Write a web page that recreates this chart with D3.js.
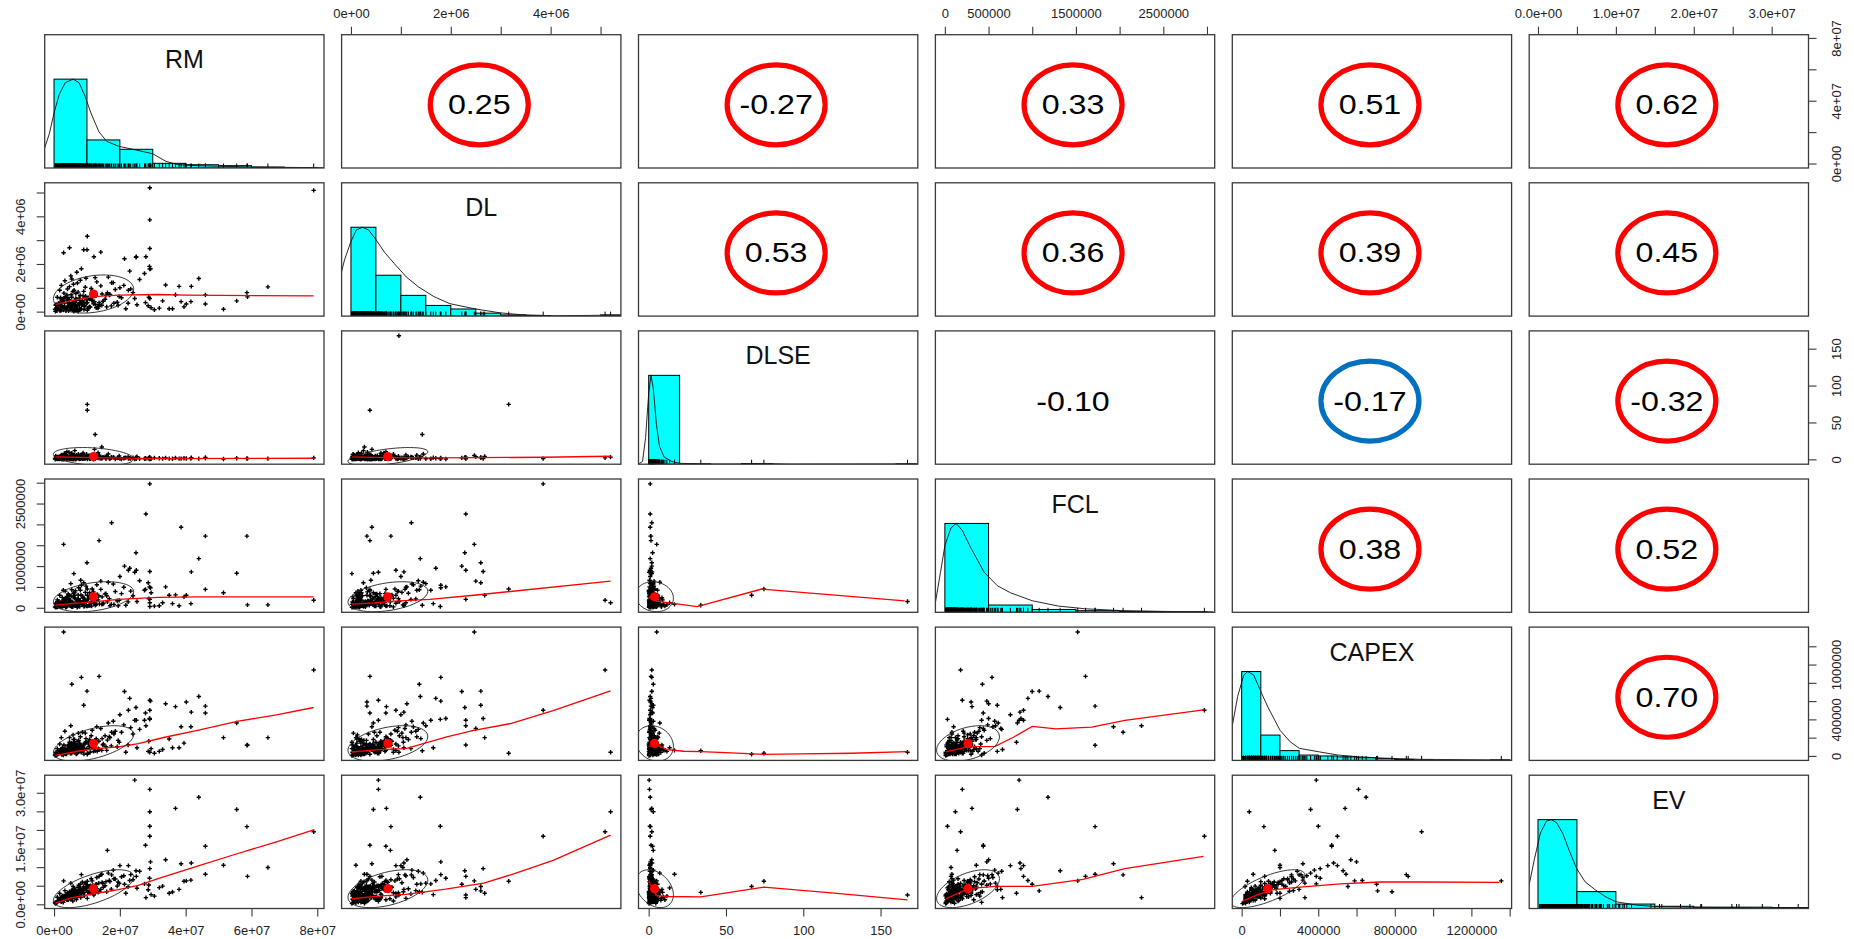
<!DOCTYPE html>
<html>
<head>
<meta charset="utf-8">
<script src="https://cdn.jsdelivr.net/npm/d3@7"></script>
<style>
body { margin: 0; background: #fff; }
svg { display: block; font-family: "Liberation Sans", Arial, sans-serif; }
</style>
</head>
<body>
<script>
// variables of the pairs plot; RM, DL, FCL, CAPEX, EV are in millions, DLSE as is
const vars = ["RM", "DL", "DLSE", "FCL", "CAPEX", "EV"];

const RM = [78.9,29.1,29.1,2.9,null,10.1,10.1,12.5,14.5,24.5, 29.1,44.0,36.9,55.5,29.1,58.6,46.0,16.2,27.8,33.9,
  41.7,38.6,51.5,65.0,46.0,40.2,36.0,27.9,17.5,13.7, 24.9,4.7,10.0,9.0,14.2,29.1,25.0,21.4,12.1,29.3,
  23.0,27.5,38.0,58.8,35.0,32.0,41.6,8.3,5.4,20.0, 22.6,6.0,
  0.8,1.2,1.9,2.3,2.7,3.1,3.4,3.8,4.1,4.5, 4.9,5.2,5.6,5.9,6.3,6.6,7.0,7.3,7.7,8.0,
  8.4,8.8,9.1,9.5,9.9,10.4,11.0,11.6,12.3,13.0, 13.8,14.6,15.5,16.5,17.4,18.6,19.8,21.2,22.5,24.0,
  26.0,28.8,29.5,29.0,28.6,30.5,33.0,39.5,0.4,1.5, 2.0,2.5,3.0,3.6,4.3,4.7,5.0,5.4,5.8,6.1,
  6.5,6.8,7.1,7.5,7.9,8.2,8.6,9.0,9.3,9.7, 10.1,10.7,11.3,12.0,12.7,13.4,14.2,15.0,16.0,17.0,
  18.0,19.2,20.5,21.8,23.3,25.2,0.6,1.0,1.7,2.2, 2.8,3.3,3.9,4.4,5.1,5.7,6.2,6.9,7.4,8.1,
  0.9,1.4,2.1,2.6,3.2,3.7,4.2,4.6,5.3,5.5, 6.0,6.4,6.7,7.2,7.6,8.3,8.7,9.2,9.6,10.2,
  11.4,12.5,13.1,1.1,1.8,2.4,3.5,4.0,4.8,5.7, 6.9,7.8,8.9,10.8,14.8,16.8,19.5,2.9,3.9,5.0,
  0.7,1.3,2.2,3.0,4.4,5.2,6.2,7.4,8.5,9.4, 10.6,11.8,0.5,1.6,2.5,3.4,4.9,6.6,7.0,8.8,
  1.0,2.0,3.3,4.5,5.9,7.7,9.8,12.8,15.8,18.2, 0.3,1.9,2.7,4.1,6.3,8.0,11.1,13.6,2.3,5.6];
const DL = [5.09,5.20,3.85,2.47,0.96,3.16,0.38,1.43,0.27,0.55, 0.55,1.39,0.71,0.45,1.79,0.80,0.70,0.79,0.38,1.12,
  1.06,0.42,0.10,1.04,0.32,0.32,0.12,2.30,1.21,0.38, 2.28,2.68,2.60,2.60,2.50,2.65,2.30,2.22,2.30,1.80,
  1.70,1.60,1.06,0.62,0.12,0.15,0.42,1.80,1.37,1.00, 0.90,0.02,
  0.05,0.12,0.30,0.08,0.45,0.21,0.62,0.18,0.95,0.33, 0.10,0.71,0.40,1.15,0.25,0.55,0.15,0.82,0.48,1.32,
  0.28,0.66,0.09,1.02,0.36,0.58,0.19,0.88,0.42,1.25, 0.30,0.74,0.52,1.45,0.24,0.93,0.63,1.10,0.35,0.80,
  1.35,0.60,0.16,1.90,0.25,0.08,0.45,0.20,0.02,0.35, 0.55,0.14,0.78,0.04,0.50,1.05,0.22,0.60,0.13,0.90,
  0.38,0.07,1.20,0.31,0.68,0.11,0.47,0.85,0.26,1.40, 0.06,0.53,0.97,0.33,0.67,0.15,1.08,0.44,0.20,0.72,
  1.22,0.39,0.58,0.12,0.95,0.29,0.30,0.60,0.90,1.10, 0.20,1.30,0.70,0.03,1.50,0.85,0.45,1.65,0.05,0.40,
  0.04,0.16,0.27,0.10,0.36,0.06,0.22,0.51,0.13,0.34, 0.08,0.43,0.19,0.29,0.57,0.11,0.38,0.23,0.65,0.14,
  0.47,0.31,0.18,0.25,0.03,0.41,0.17,0.60,0.09,0.28, 0.52,0.12,0.35,0.21,0.44,0.70,0.26,0.07,0.49,0.20,
  0.15,0.33,0.05,0.56,0.24,0.11,0.39,0.02,0.30,0.62, 0.18,0.46,0.27,0.09,0.53,0.14,0.32,0.76,0.06,0.41,
  0.22,0.58,0.12,0.37,0.04,0.29,0.50,0.16,0.68,0.35, 0.10,0.26,0.44,0.19,0.07,0.34,0.55,0.23,0.48,0.13];
const DLSE = [2.0,3.0,1.0,5.2,167.4,74.5,66.6,33.7,16.7,0.3, 0.5,1.0,2.0,1.5,0.8,1.2,2.5,3.0,1.5,2.0,
  2.2,1.0,0.5,1.0,1.5,1.2,0.9,1.0,2.0,1.5, 2.5,4.0,2.0,3.0,3.5,1.0,0.8,2.0,3.0,1.2,
  1.5,0.9,1.0,1.0,1.0,1.5,1.0,2.0,3.0,1.0, 1.0,2.0,
  1.2,3.5,0.6,5.1,2.2,7.9,1.8,0.4,4.4,9.5, 2.9,0.9,6.2,3.3,11.8,1.5,4.8,2.6,0.3,5.7,
  3.9,8.6,1.1,2.4,6.8,3.0,0.7,4.1,13.5,2.0, 5.3,1.3,3.6,7.2,2.8,0.5,4.6,1.6,3.2,2.1,
  0.8,1.9,0.9,0.5,1.3,2.0,1.0,1.5,0.2,2.5, 1.0,4.0,0.8,6.5,2.0,0.5,3.8,8.2,1.4,2.7,
  0.1,5.5,3.1,1.7,4.3,0.6,2.3,7.0,1.0,3.4, 0.4,5.0,2.2,0.2,3.7,9.0,1.1,2.6,4.5,0.7,
  3.0,1.8,0.3,2.4,1.2,3.5,1.9,0.4,3.0,6.0, 0.2,2.0,10.5,1.6,0.9,4.9,1.3,2.4,6.8,0.6,
  0.8,2.6,1.4,4.2,0.3,3.1,1.9,0.6,5.4,2.2, 1.0,3.7,0.4,2.9,1.6,6.1,0.9,2.4,4.8,1.2,
  3.3,0.7,2.0,1.5,4.0,0.2,2.8,1.1,3.6,0.5, 1.7,5.0,2.3,0.9,3.0,1.3,2.1,0.4,4.5,1.8,
  2.7,0.6,3.9,1.0,2.5,0.3,5.8,1.4,2.0,0.8, 3.4,1.2,4.6,0.5,2.2,1.7,0.9,3.8,1.5,2.9,
  0.7,4.1,1.3,2.6,0.2,3.2,1.9,5.2,0.6,2.4, 1.1,3.5,0.4,2.0,4.4,1.6,0.8,2.7,3.0,1.0];
const FCL = [0.18,0.12,2.97,1.52,0.15,0.45,0.30,0.06,0.08,0.85, 0.20,1.18,0.31,0.83,0.03,1.72,0.44,0.14,0.44,0.50,
  0.86,1.93,0.36,0.07,1.72,0.30,0.10,2.25,2.04,1.61, 1.32,0.30,1.08,0.60,0.64,0.87,0.90,1.00,0.20,0.48,
  0.95,0.42,0.05,0.07,0.30,0.05,0.10,0.54,0.43,0.75, 0.90,0.82,
  0.02,0.04,0.08,0.03,0.11,0.06,0.15,0.02,0.22,0.09, 0.05,0.28,0.12,0.35,0.07,0.19,0.04,0.31,0.14,0.42,
  0.10,0.24,0.03,0.37,0.16,0.21,0.06,0.45,0.12,0.55, 0.09,0.26,0.33,0.61,0.08,0.39,0.18,0.49,0.14,0.29,
  0.65,0.22,0.36,0.50,0.60,0.04,0.12,0.26,0.01,0.16, 0.09,0.25,0.05,0.13,0.33,0.07,0.18,0.02,0.26,0.11,
  0.41,0.06,0.20,0.48,0.13,0.30,0.08,0.23,0.10,0.52, 0.04,0.27,0.15,0.38,0.07,0.19,0.44,0.11,0.29,0.05,
  0.57,0.17,0.34,0.06,0.40,0.15,0.07,0.19,0.30,0.12, 0.42,0.21,0.04,0.14,0.58,0.02,0.36,0.10,0.22,0.66,
  0.01,0.05,0.10,0.03,0.14,0.02,0.07,0.19,0.04,0.12, 0.06,0.23,0.09,0.02,0.17,0.08,0.28,0.05,0.13,0.21,
  0.04,0.10,0.32,0.03,0.08,0.16,0.01,0.25,0.11,0.06, 0.19,0.03,0.14,0.36,0.09,0.22,0.05,0.12,0.27,0.07,
  0.02,0.15,0.06,0.20,0.10,0.04,0.30,0.08,0.13,0.18, 0.05,0.24,0.11,0.03,0.16,0.40,0.07,0.20,0.01,0.12,
  0.09,0.03,0.18,0.06,0.26,0.11,0.04,0.15,0.34,0.08, 0.02,0.13,0.07,0.22,0.05,0.17,0.10,0.29,0.04,0.14];
const CAPEX = [0.94,0.04,0.50,1.356,0.04,0.03,0.018,0.057,0.06,0.39, 0.61,0.65,0.54,0.36,0.40,0.116,0.47,0.173,0.47,0.57,
  0.48,0.32,0.20,0.20,0.545,0.59,0.09,0.33,0.26,0.87, 0.53,0.20,0.71,0.555,0.30,0.41,0.39,0.705,0.12,0.60,
  0.63,0.39,0.09,0.12,0.185,0.05,0.32,0.86,0.785,0.45, 0.50,0.15,
  0.01,0.02,0.03,0.015,0.05,0.04,0.08,0.02,0.11,0.06, 0.03,0.14,0.07,0.18,0.05,0.09,0.03,0.16,0.10,0.21,
  0.06,0.12,0.02,0.25,0.08,0.13,0.04,0.28,0.09,0.32, 0.07,0.19,0.22,0.36,0.11,0.27,0.15,0.34,0.12,0.24,
  0.29,0.16,0.08,0.41,0.05,0.03,0.07,0.14,0.005,0.06, 0.03,0.09,0.12,0.02,0.07,0.15,0.04,0.10,0.23,0.06,
  0.13,0.02,0.08,0.17,0.05,0.11,0.26,0.07,0.14,0.19, 0.03,0.10,0.22,0.05,0.17,0.08,0.30,0.13,0.06,0.20,
  0.38,0.10,0.26,0.04,0.31,0.09,0.04,0.08,0.13,0.20, 0.01,0.27,0.06,0.12,0.33,0.04,0.18,0.09,0.25,0.07,
  0.01,0.03,0.05,0.02,0.07,0.04,0.06,0.09,0.03,0.11, 0.05,0.08,0.02,0.12,0.06,0.04,0.10,0.07,0.15,0.03,
  0.09,0.13,0.05,0.02,0.04,0.08,0.03,0.06,0.11,0.07, 0.05,0.14,0.09,0.18,0.12,0.21,0.17,0.02,0.06,0.10,
  0.01,0.04,0.07,0.03,0.09,0.05,0.12,0.08,0.06,0.13, 0.16,0.10,0.02,0.05,0.03,0.08,0.11,0.14,0.04,0.07,
  0.02,0.06,0.04,0.09,0.12,0.05,0.15,0.19,0.10,0.24, 0.01,0.03,0.07,0.05,0.10,0.08,0.13,0.16,0.04,0.06];
const EV = [19.5,24.9,18.3,6.3,2.5,6.2,4.8,3.2,8.1,33.4, 30.9,28.8,25.8,25.5,21.0,20.9,15.6,14.5,15.9,12.0,
  11.1,10.9,10.5,9.9,8.1,6.3,3.3,1.8,7.9,7.5, 9.0,3.0,3.6,4.8,4.0,9.6,7.5,5.4,2.5,11.4,
  6.4,5.5,4.0,7.5,3.0,4.5,6.5,8.0,3.4,10.4, 10.4,3.0,
  0.4,0.9,1.3,0.7,1.8,1.1,2.4,1.6,3.1,2.0, 1.4,3.6,2.7,4.2,2.2,3.9,1.9,4.6,3.3,5.4,
  2.9,4.0,2.3,5.8,3.7,4.9,3.0,6.3,4.4,7.2, 3.5,5.9,5.0,8.4,4.1,6.8,5.6,7.7,4.7,6.6,
  8.9,5.2,2.6,7.0,3.9,2.2,4.9,6.2,0.2,1.1, 0.8,2.1,1.5,2.6,1.2,3.4,2.5,1.7,4.8,2.0,
  3.2,1.3,2.8,5.1,3.8,2.4,6.0,3.1,4.3,5.5, 1.6,3.6,6.9,2.7,5.3,3.2,7.9,4.6,3.4,6.1,
  9.2,4.9,7.4,3.0,8.0,4.3,0.6,1.9,2.9,1.6, 0.5,3.7,1.2,2.2,5.7,0.9,4.4,2.6,3.5,1.8,
  0.5,1.0,1.5,1.2,2.1,1.7,2.5,2.0,2.9,2.3, 2.6,3.4,1.9,2.8,3.7,3.0,4.1,2.4,4.5,3.3,
  3.9,4.8,4.2,0.8,1.4,1.8,2.2,2.7,3.1,3.5, 3.2,4.4,3.6,4.9,5.6,6.4,6.0,1.6,2.0,2.6,
  0.6,0.9,1.1,1.5,2.4,2.9,3.3,2.8,3.8,4.3, 4.7,5.1,0.3,1.3,1.7,2.2,3.0,3.6,2.5,4.0,
  0.7,1.2,2.0,2.7,3.4,3.9,4.6,5.4,6.1,6.9, 0.4,1.6,2.3,2.9,3.7,4.2,5.0,5.7,1.8,3.1];

// means and standard deviations (red dots / ellipses)
const means = [12.0, 0.74, 3.8, 0.265, 0.137, 4.2];
const sds = [12.2, 0.80, 12.2, 0.36, 0.194, 5.1];

// correlation matrix shown in the upper panels
const corr = [
  [1, 0.25, -0.27, 0.33, 0.51, 0.62],
  [0.25, 1, 0.53, 0.36, 0.39, 0.45],
  [-0.27, 0.53, 1, -0.10, -0.17, -0.32],
  [0.33, 0.36, -0.10, 1, 0.38, 0.52],
  [0.51, 0.39, -0.17, 0.38, 1, 0.70],
  [0.62, 0.45, -0.32, 0.52, 0.70, 1]
];
// which correlations are circled
const circledRed = [[0,1],[0,2],[0,3],[0,4],[0,5],[1,2],[1,3],[1,4],[1,5],[2,5],[3,4],[3,5],[4,5]];
const circledBlue = [[2,4]];

// histogram breaks and counts
const brkRM = [0,10,20,30,40,50,60,70,80];
const cntRM = [190,60,40,10,7,5,2,1];
const brkDL = [0,0.5,1,1.5,2,2.5,3,3.5,4,4.5,5,5.5];
const cntDL = [150,69,35,18,12,5,2,1,0,0,2];
const brkDLSE = [0,20,40,60,80,100,120,140,160,180];
const cntDLSE = [250,1,0,2,0,0,0,0,1];
const brkFCL = [0,0.5,1,1.5,2,2.5,3];
const cntFCL = [220,18,7,4,2,1];
const brkCAPEX = [0,0.1,0.2,0.3,0.4,0.5,0.6,0.7,0.8,0.9,1.0,1.1,1.2,1.3,1.4];
const cntCAPEX = [200,57,22,12,10,8,6,4,2,1,0,0,0,1];
const brkEV = [0,5,10,15,20,25,30,35];
const cntEV = [200,38,10,5,3,3,2];

// density curves (scaled to a peak of 1)
const denRM = [[-2.9,0.22],[-1.4,0.39],[0,0.62],[1.6,0.83],[3.4,0.96],[5.8,1],[7.6,0.96],[9.4,0.81],[11.2,0.62],
  [13.6,0.41],[16,0.3],[19.6,0.245],[24.4,0.207],[30,0.16],[34,0.075],[37.6,0.038],[43.6,0.026],[50.8,0.019],
  [60.4,0.011],[67.6,0.008],[79.6,0.004],[82,0.003]];
const denDL = [[-0.23,0.405],[-0.13,0.63],[0,0.84],[0.11,0.97],[0.23,1],[0.35,0.97],[0.49,0.87],[0.67,0.72],
  [0.87,0.59],[1.11,0.44],[1.35,0.33],[1.66,0.22],[1.98,0.14],[2.48,0.082],[2.98,0.037],[3.42,0.015],
  [4.05,0.004],[4.85,0.008],[5.2,0.011],[5.41,0.008]];
const denDLSE = [[-6.9,0],[-4,0.03],[-2,0.3],[0,0.8],[1.5,1],[3,0.85],[5,0.45],[7,0.2],[10,0.08],[15,0.03],
  [20,0.01],[30,0.005],[40,0.003],[60,0.003],[75,0.008],[90,0.002],[167,0.003],[173,0.002]];
const denFCL = [[-0.11,0.1],[-0.05,0.45],[0,0.75],[0.07,0.95],[0.13,1],[0.2,0.92],[0.3,0.72],[0.45,0.45],
  [0.6,0.3],[0.75,0.22],[1,0.13],[1.3,0.07],[1.6,0.04],[2,0.02],[2.5,0.01],[3.07,0.005]];
const denCAPEX = [[-0.055,0.32],[-0.021,0.72],[0.011,0.96],[0.032,1],[0.063,0.96],[0.101,0.77],[0.137,0.6],
  [0.2,0.34],[0.253,0.21],[0.301,0.136],[0.4,0.098],[0.5,0.061],[0.6,0.042],[0.726,0.027],[0.937,0.012],
  [1.358,0.005],[1.404,0.004]];
const denEV = [[-1.25,0.216],[-0.47,0.55],[0.31,0.85],[1.1,0.985],[1.72,1],[2.4,0.965],[3.18,0.845],[3.97,0.66],
  [4.96,0.45],[6.05,0.3],[7.36,0.21],[8.66,0.133],[9.97,0.077],[12.6,0.039],[15.2,0.021],[21.5,0.013],
  [29.3,0.006],[34.8,0.002]];

// loess smooths, named smY_X
const smDL_RM = [[0.4,0.295],[5.2,0.46],[12,0.63],[19.6,0.69],[31.6,0.72],[40,0.69],[78.9,0.66]];
const smDLSE_RM = [[0.4,3.3],[12,2.4],[31.6,1.0],[78.9,1.5]];
const smDLSE_DL = [[0.02,3.3],[0.7,2.4],[1.66,1.9],[3.85,2.8],[5.2,4.2]];
const smFCL_RM = [[0.4,0.064],[5.2,0.1],[12,0.14],[19.6,0.2],[31.6,0.25],[43.6,0.26],[78.9,0.26]];
const smFCL_DL = [[0.02,0.09],[0.47,0.12],[0.87,0.16],[1.58,0.2],[2.46,0.3],[5.2,0.64]];
const smFCL_DLSE = [[0.1,0.255],[5,0.16],[31.3,0.026],[73.2,0.45],[165.6,0.167]];
const smCAPEX_RM = [[0.4,0.007],[7.6,0.054],[12,0.076],[19.6,0.098],[25.6,0.134],[34,0.207],[43.6,0.28],
  [55.6,0.377],[67.6,0.45],[78.9,0.53]];
const smCAPEX_DL = [[0.02,0.043],[0.55,0.069],[1.1,0.08],[1.9,0.207],[2.46,0.28],[3.18,0.352],[4.05,0.497],[5.2,0.712]];
const smCAPEX_DLSE = [[0.1,0.105],[4.9,0.127],[11.7,0.069],[22.6,0.051],[33.7,0.047],[49.7,0.036],[74.5,0.018],
  [98.6,0.022],[131,0.029],[167.4,0.047]];
const smCAPEX_FCL = [[0.01,0.043],[0.26,0.098],[0.575,0.105],[0.79,0.207],[1.0,0.324],[1.27,0.297],[1.68,0.316],
  [2.06,0.388],[2.96,0.505]];
const smEV_RM = [[0.4,0.32],[5.2,1.76],[12,2.84],[19.6,3.92],[25.6,5.1],[31.6,6.9],[43.6,10.3],[55.6,13.6],
  [67.6,16.8],[78.9,20.0]];
const smEV_DL = [[0.02,1.5],[0.55,2.2],[1.1,2.66],[1.9,4.1],[2.66,5.7],[3.26,8.2],[4.05,11.8],[5.2,18.6]];
const smEV_DLSE = [[0.1,6.44],[2.2,4.2],[4.9,2.4],[11.7,2.1],[33.7,2.0],[74.5,4.6],[120,3.0],[167.4,1.2]];
const smEV_FCL = [[0.01,1.5],[0.27,4.2],[0.575,4.8],[1.0,4.8],[1.58,6.7],[2.06,9.6],[2.96,12.9]];
const smEV_CAPEX = [[0.005,0.86],[0.074,2.39],[0.158,3.9],[0.305,4.6],[0.516,5.5],[0.726,6.0],[0.937,6.0],[1.347,5.9]];

// axis ticks and labels
const tkRM = [0,20,40,60,80];
const labRMbottom = ["0e+00","2e+07","4e+07","6e+07","8e+07"];
const labRMright = ["0e+00","","4e+07","","8e+07"];
const tkDL = [0,1,2,3,4,5];
const labDL = ["0e+00","","2e+06","","4e+06",""];
const tkDLSE = [0,50,100,150];
const labDLSE = ["0","50","100","150"];
const tkFCL = [0,0.5,1,1.5,2,2.5,3];
const labFCLtop = ["0","500000","","1500000","","2500000",""];
const labFCLleft = ["0","","1000000","","","2500000",""];
const tkCAPEXbottom = [0,0.2,0.4,0.6,0.8,1.0,1.2,1.4];
const labCAPEXbottom = ["0","","400000","","800000","","1200000",""];
const tkCAPEXright = [0,0.2,0.4,0.6,0.8,1.0,1.2];
const labCAPEXright = ["0","","400000","","","1000000",""];
const tkEV = [0,5,10,15,20,25,30];
const labEVtop = ["0.0e+00","","1.0e+07","","2.0e+07","","3.0e+07"];
const labEVleft = ["0.0e+00","","","1.5e+07","","","3.0e+07"];

// ---------------------------------------------------------------
const W = 1854, H = 939;
const X0 = 44.7, Y0 = 34.7, PW = 279.3, PH = 133.3, DX = 296.9, DY = 148.1;
const nv = vars.length;
const cols = [RM, DL, DLSE, FCL, CAPEX, EV];
const hists = [[brkRM,cntRM],[brkDL,cntDL],[brkDLSE,cntDLSE],[brkFCL,cntFCL],[brkCAPEX,cntCAPEX],[brkEV,cntEV]];
const dens = [denRM, denDL, denDLSE, denFCL, denCAPEX, denEV];
const smooth = {
  "1,0": smDL_RM, "2,0": smDLSE_RM, "2,1": smDLSE_DL, "3,0": smFCL_RM, "3,1": smFCL_DL, "3,2": smFCL_DLSE,
  "4,0": smCAPEX_RM, "4,1": smCAPEX_DL, "4,2": smCAPEX_DLSE, "4,3": smCAPEX_FCL,
  "5,0": smEV_RM, "5,1": smEV_DL, "5,2": smEV_DLSE, "5,3": smEV_FCL, "5,4": smEV_CAPEX
};

// R style ranges: data range stretched by 4% on each side
const domains = cols.map(v => {
  const ext = d3.extent(v.filter(d => d != null));
  const r = ext[1] - ext[0];
  return [ext[0] - 0.04 * r, ext[1] + 0.04 * r];
});
const xs = domains.map(d => d3.scaleLinear().domain(d).range([0, PW]));
const ys = domains.map(d => d3.scaleLinear().domain(d).range([PH, 0]));

const svg = d3.select("body").append("svg").attr("width", W).attr("height", H);
svg.append("defs").append("clipPath").attr("id", "clip")
  .append("rect").attr("width", PW).attr("height", PH);

const border = "#3a3a3a";

for (let i = 0; i < nv; i++) {
  for (let j = 0; j < nv; j++) {
    const g = svg.append("g").attr("transform", `translate(${X0 + j * DX},${Y0 + i * DY})`);
    const inner = g.append("g").attr("clip-path", "url(#clip)");

    if (i === j) {
      // histogram + density + rug
      const sx = xs[j];
      const hy = d3.scaleLinear().domain([0, 1.5]).range([PH, 0]);
      const [brk, cnt] = hists[j];
      const mx = d3.max(cnt);
      inner.selectAll("rect.bar").data(cnt).enter().append("rect")
        .attr("x", (d, k) => sx(brk[k]))
        .attr("y", d => hy(d / mx))
        .attr("width", (d, k) => sx(brk[k + 1]) - sx(brk[k]))
        .attr("height", d => PH - hy(d / mx))
        .attr("fill", "#00ffff").attr("stroke", "#000").attr("stroke-width", 1);
      inner.append("path").datum(dens[j])
        .attr("d", d3.line().x(d => sx(d[0])).y(d => hy(d[1])))
        .attr("fill", "none").attr("stroke", "#111").attr("stroke-width", 0.9);
      const rug = cols[j].filter(d => d != null)
        .map(d => `M${sx(d).toFixed(1)},${PH}v-4.5`).join("");
      inner.append("path").attr("d", rug).attr("stroke", "#000").attr("stroke-width", 1);
      g.append("text").attr("x", PW / 2).attr("y", 33.5)
        .attr("text-anchor", "middle").attr("font-size", 25).attr("fill", "#111")
        .text(vars[j]);
    } else if (i > j) {
      // scatter, loess, correlation ellipse
      const sx = xs[j], sy = ys[i];
      const xv = cols[j], yv = cols[i];
      let pts = "";
      xv.forEach((x, k) => {
        const y = yv[k];
        if (x == null || y == null) return;
        const px = sx(x), py = sy(y);
        pts += `M${(px - 2.2).toFixed(1)},${py.toFixed(1)}h4.4M${px.toFixed(1)},${(py - 2.2).toFixed(1)}v4.4`;
      });
      inner.append("path").attr("d", pts).attr("stroke", "#000").attr("stroke-width", 1.4);
      inner.append("path").datum(smooth[i + "," + j])
        .attr("d", d3.line().x(d => sx(d[0])).y(d => sy(d[1])))
        .attr("fill", "none").attr("stroke", "#ff0000").attr("stroke-width", 1.3);
      const r = corr[i][j];
      const t = (r >= 0 ? 1 : -1) / Math.SQRT2;
      const a = Math.sqrt(1 + r), b = Math.sqrt(1 - r);
      const ell = d3.range(52).map(k => {
        const ang = k * 2 * Math.PI / 51, c = Math.cos(ang), s = Math.sin(ang);
        return [t * (c * a - s * b) * sds[j] + means[j], t * (c * a + s * b) * sds[i] + means[i]];
      });
      inner.append("path").datum(ell)
        .attr("d", d3.line().x(d => sx(d[0])).y(d => sy(d[1])))
        .attr("fill", "none").attr("stroke", "#222").attr("stroke-width", 0.9);
      inner.append("circle").attr("cx", sx(means[j])).attr("cy", sy(means[i])).attr("r", 4.6)
        .attr("fill", "#ff0000");
    } else {
      // correlation value
      const cx = PW / 2 - 2, cy = PH / 2 + 3.5;
      g.append("text")
        .attr("transform", `translate(${cx},${cy + 9.5}) scale(1.15,1)`)
        .attr("text-anchor", "middle").attr("font-size", 28).attr("fill", "#000")
        .text(corr[i][j].toFixed(2));
      const red = circledRed.some(p => p[0] === i && p[1] === j);
      const blue = circledBlue.some(p => p[0] === i && p[1] === j);
      if (red || blue) {
        g.append("ellipse").attr("cx", cx).attr("cy", cy).attr("rx", 49).attr("ry", 40)
          .attr("fill", "none").attr("stroke", red ? "#ff0000" : "#0070c0").attr("stroke-width", 5.2);
      }
    }
    g.append("rect").attr("width", PW).attr("height", PH)
      .attr("fill", "none").attr("stroke", border).attr("stroke-width", 1.3);
  }
}

// axes around the matrix, alternating sides like R's pairs()
function styleAxis(sel) {
  sel.select(".domain").remove();
  sel.selectAll(".tick line").attr("stroke", border).attr("stroke-width", 1.1);
  sel.selectAll(".tick text").attr("font-size", 13).attr("fill", "#222")
    .attr("font-family", "'Liberation Sans', Arial, sans-serif");
}
function topAxis(j, ticks, labels) {
  const ax = svg.append("g").attr("transform", `translate(${X0 + j * DX},${Y0})`)
    .call(d3.axisTop(xs[j]).tickValues(ticks).tickFormat((d, k) => labels[k]).tickSize(8).tickSizeOuter(0));
  styleAxis(ax);
  ax.selectAll(".tick text").attr("y", -16.4).attr("dy", 0);
}
function bottomAxis(j, ticks, labels) {
  const ax = svg.append("g").attr("transform", `translate(${X0 + j * DX},${Y0 + 5 * DY + PH})`)
    .call(d3.axisBottom(xs[j]).tickValues(ticks).tickFormat((d, k) => labels[k]).tickSize(8).tickSizeOuter(0));
  styleAxis(ax);
  ax.selectAll(".tick text").attr("y", 26.5).attr("dy", 0);
}
function leftAxis(i, ticks, labels) {
  const ax = svg.append("g").attr("transform", `translate(${X0},${Y0 + i * DY})`)
    .call(d3.axisLeft(ys[i]).tickValues(ticks).tickFormat((d, k) => labels[k]).tickSize(8).tickSizeOuter(0));
  styleAxis(ax);
  ax.selectAll(".tick text").attr("x", 0).attr("y", -20.2).attr("dy", 0)
    .attr("text-anchor", "middle").attr("transform", "rotate(-90)");
}
function rightAxis(i, ticks, labels) {
  const ax = svg.append("g").attr("transform", `translate(${X0 + 5 * DX + PW},${Y0 + i * DY})`)
    .call(d3.axisRight(ys[i]).tickValues(ticks).tickFormat((d, k) => labels[k]).tickSize(8).tickSizeOuter(0));
  styleAxis(ax);
  ax.selectAll(".tick text").attr("x", 0).attr("y", 32.5).attr("dy", 0)
    .attr("text-anchor", "middle").attr("transform", "rotate(-90)");
}

topAxis(1, tkDL, labDL);
topAxis(3, tkFCL, labFCLtop);
topAxis(5, tkEV, labEVtop);
bottomAxis(0, tkRM, labRMbottom);
bottomAxis(2, tkDLSE, labDLSE);
bottomAxis(4, tkCAPEXbottom, labCAPEXbottom);
leftAxis(1, tkDL, labDL);
leftAxis(3, tkFCL, labFCLleft);
leftAxis(5, tkEV, labEVleft);
rightAxis(0, tkRM, labRMright);
rightAxis(2, tkDLSE, labDLSE);
rightAxis(4, tkCAPEXright, labCAPEXright);
</script>
</body>
</html>
